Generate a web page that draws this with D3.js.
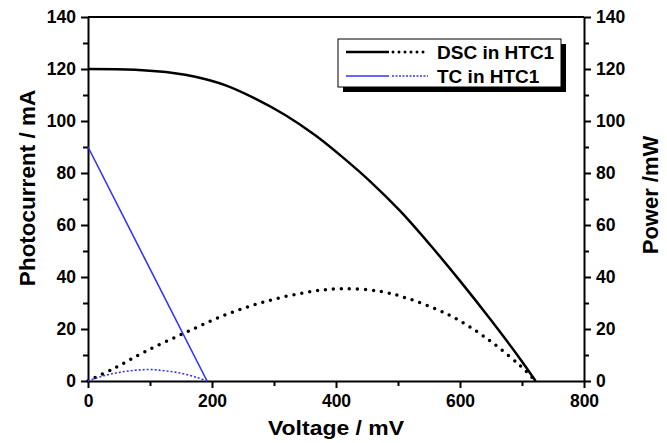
<!DOCTYPE html>
<html>
<head>
<meta charset="utf-8">
<script src="https://cdn.jsdelivr.net/npm/d3@7"></script>
<style>
  body { margin: 0; background: #fff; }
  text { font-family: "Liberation Sans", Arial, sans-serif; font-weight: bold; }
</style>
</head>
<body>
<div id="chart"></div>
<script>
// --- data ---
var dscVoltage = [0, 76, 140, 173, 221, 269, 318, 366, 410, 455, 503, 552, 600, 648, 697, 722];
var dscCurrent = [120, 119.7, 118.4, 117, 113.8, 108.7, 102.3, 94.6, 86.2, 76.8, 65.5, 52.3, 38.5, 24, 8.5, 0];

var dscPowerVoltage = [0, 43, 92, 156, 221, 285, 350, 406, 471, 519, 568, 592, 616, 640, 665, 697, 713, 722];
var dscPower = [0, 5, 11.3, 18.5, 25.4, 30.5, 34, 35.5, 34.5, 31.5, 27, 24.2, 20.8, 16.9, 12.4, 5.9, 2.2, 0];

var tcVoltage = [0, 192];
var tcCurrent = [90, 0];

var tcPowerVoltage = [0, 25, 50, 75, 100, 125, 150, 175, 192];
var tcPower = [0, 2, 3.3, 4.1, 4.4, 3.9, 3, 1.4, 0];

var xMajor = [0, 200, 400, 600, 800];
var xMinor = [100, 300, 500, 700];
var yMajor = [0, 20, 40, 60, 80, 100, 120, 140];
var yMinor = [10, 30, 50, 70, 90, 110, 130];

var legendLabels = ['DSC in HTC1', 'TC in HTC1'];
var legendColors = ['#000000', '#3333ff'];

// --- setup ---
var W = 667, H = 443;
var margin = { left: 88, right: 83, top: 17, bottom: 62 };

var svg = d3.select('#chart').append('svg')
    .attr('width', W)
    .attr('height', H);

var x = d3.scaleLinear().domain([0, 800]).range([margin.left, W - margin.right]);
var y = d3.scaleLinear().domain([0, 140]).range([H - margin.bottom, margin.top]);
var y2 = d3.scaleLinear().domain([0, 140]).range([H - margin.bottom, margin.top]);

function styleAxis(g) {
    g.selectAll('path').attr('stroke', '#000').attr('stroke-width', 2);
    g.selectAll('line').attr('stroke', '#000').attr('stroke-width', 2);
    g.selectAll('text').attr('font-size', '17.5px').attr('fill', '#000')
        .attr('font-family', '"Liberation Sans", Arial, sans-serif').attr('font-weight', 'bold');
}

// top frame line
svg.append('line')
    .attr('x1', x(0)).attr('x2', x(800))
    .attr('y1', y(140)).attr('y2', y(140))
    .attr('stroke', '#000').attr('stroke-width', 2);

// --- axes ---
var bottom = svg.append('g').attr('transform', 'translate(0,' + y(0) + ')');
bottom.call(d3.axisBottom(x).tickValues(xMajor).tickSize(7).tickSizeOuter(0).tickPadding(7));
bottom.append('g').call(d3.axisBottom(x).tickValues(xMinor).tickSize(5).tickFormat('')).select('.domain').remove();
styleAxis(bottom);

var left = svg.append('g').attr('transform', 'translate(' + x(0) + ',0)');
left.call(d3.axisLeft(y).tickValues(yMajor).tickSize(7).tickSizeOuter(0).tickPadding(5));
left.append('g').call(d3.axisLeft(y).tickValues(yMinor).tickSize(5).tickFormat('')).select('.domain').remove();
styleAxis(left);

var right = svg.append('g').attr('transform', 'translate(' + x(800) + ',0)');
right.call(d3.axisRight(y2).tickValues(yMajor).tickSize(7).tickSizeOuter(0).tickPadding(5));
right.append('g').call(d3.axisRight(y2).tickValues(yMinor).tickSize(5).tickFormat('')).select('.domain').remove();
styleAxis(right);

// axis titles
svg.append('text')
    .attr('transform', 'translate(' + ((x(0) + x(800)) / 2) + ',435) scale(1.12,1)')
    .attr('text-anchor', 'middle')
    .attr('font-size', '20.5px')
    .text('Voltage / mV');

svg.append('text')
    .attr('transform', 'translate(35,' + ((y(0) + y(140)) / 2 - 11) + ') rotate(-90)')
    .attr('text-anchor', 'middle')
    .attr('font-size', '22.5px')
    .text('Photocurrent / mA');

svg.append('text')
    .attr('transform', 'translate(658,' + ((y(0) + y(140)) / 2 - 4) + ') rotate(-90)')
    .attr('text-anchor', 'middle')
    .attr('font-size', '22px')
    .text('Power /mW');

// --- curves ---
function pairs(xs, ys) {
    return xs.map(function (v, i) { return [v, ys[i]]; });
}

var lineCur = d3.line()
    .x(function (d) { return x(d[0]); })
    .y(function (d) { return y(d[1]); })
    .curve(d3.curveCatmullRom.alpha(0.5));

var linePow = d3.line()
    .x(function (d) { return x(d[0]); })
    .y(function (d) { return y2(d[1]); })
    .curve(d3.curveCatmullRom.alpha(0.5));

svg.append('path')
    .attr('d', lineCur(pairs(dscVoltage, dscCurrent)))
    .attr('fill', 'none')
    .attr('stroke', legendColors[0])
    .attr('stroke-width', 2.5);

svg.append('path')
    .attr('d', linePow(pairs(dscPowerVoltage, dscPower)))
    .attr('fill', 'none')
    .attr('stroke', legendColors[0])
    .attr('stroke-width', 3.5)
    .attr('stroke-linecap', 'round')
    .attr('stroke-dasharray', '0 8');

svg.append('path')
    .attr('d', lineCur(pairs(tcVoltage, tcCurrent)))
    .attr('fill', 'none')
    .attr('stroke', legendColors[1])
    .attr('stroke-width', 1.6);

svg.append('path')
    .attr('d', linePow(pairs(tcPowerVoltage, tcPower)))
    .attr('fill', 'none')
    .attr('stroke', legendColors[1])
    .attr('stroke-width', 1.6)
    .attr('stroke-dasharray', '2 2');

// --- legend ---
var lg = svg.append('g');
lg.append('rect')
    .attr('x', 343).attr('y', 44)
    .attr('width', 223).attr('height', 48)
    .attr('fill', '#000');
lg.append('rect')
    .attr('x', 338).attr('y', 39)
    .attr('width', 223).attr('height', 48)
    .attr('fill', '#fff')
    .attr('stroke', '#000')
    .attr('stroke-width', 1);

legendLabels.forEach(function (label, i) {
    var ly = 52 + i * 24;
    var thick = i === 0;
    lg.append('line')
        .attr('x1', 346).attr('x2', 389)
        .attr('y1', ly).attr('y2', ly)
        .attr('stroke', legendColors[i])
        .attr('stroke-width', thick ? 2.5 : 1.6);
    lg.append('line')
        .attr('x1', thick ? 393 : 392).attr('x2', 428)
        .attr('y1', ly).attr('y2', ly)
        .attr('stroke', legendColors[i])
        .attr('stroke-width', thick ? 3 : 1.6)
        .attr('stroke-linecap', thick ? 'round' : 'butt')
        .attr('stroke-dasharray', thick ? '0 6' : '2 1.5');
    lg.append('text')
        .attr('x', 437).attr('y', ly + 7)
        .attr('font-size', '19px')
        .text(label);
});
</script>
</body>
</html>
